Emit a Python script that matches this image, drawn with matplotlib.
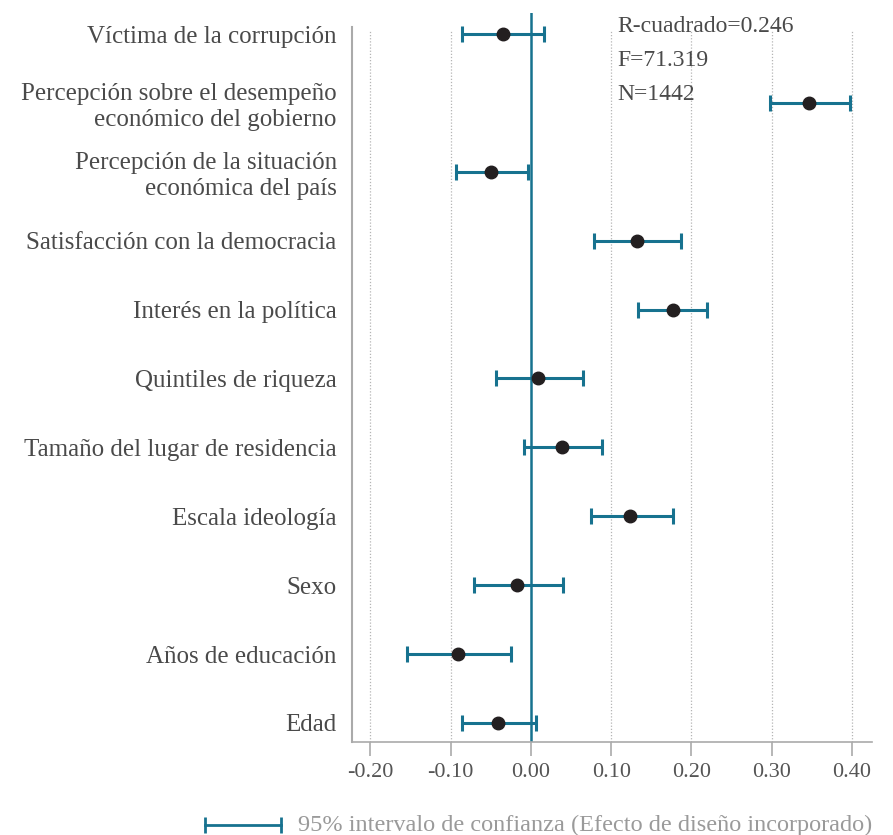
import matplotlib
matplotlib.use("Agg")
import matplotlib.pyplot as plt
from matplotlib.lines import Line2D

categories = [
    "Víctima de la corrupción",
    "Percepción sobre el desempeño\neconómico del gobierno",
    "Percepción de la situación\neconómica del país",
    "Satisfacción con la democracia",
    "Interés en la política",
    "Quintiles de riqueza",
    "Tamaño del lugar de residencia",
    "Escala ideología",
    "Sexo",
    "Años de educación",
    "Edad",
]
coef = [-0.035, 0.347, -0.050, 0.132, 0.177, 0.009, 0.039, 0.123, -0.017, -0.091, -0.041]
ci_low = [-0.086, 0.298, -0.093, 0.078, 0.133, -0.044, -0.009, 0.075, -0.071, -0.154, -0.086]
ci_high = [0.016, 0.397, -0.004, 0.187, 0.220, 0.065, 0.088, 0.177, 0.040, -0.025, 0.006]
xticks = [-0.20, -0.10, 0.00, 0.10, 0.20, 0.30, 0.40]
xticklabels = ["-0.20", "-0.10", "0.00", "0.10", "0.20", "0.30", "0.40"]
stats = ["R-cuadrado=0.246", "F=71.319", "N=1442"]
legend_text = "95% intervalo de confianza (Efecto de diseño incorporado)"

TEAL = "#17728f"
plt.rcParams['font.family'] = ['Liberation Serif', 'DejaVu Serif']

W, H = 893, 835
fig = plt.figure(figsize=(W / 100, H / 100), dpi=100)
ax_left, ax_right, ax_top, ax_bot = 352, 872, 13, 742
ax = fig.add_axes([ax_left / W, 1 - ax_bot / H, (ax_right - ax_left) / W, (ax_bot - ax_top) / H])

n = len(categories)
ypos = list(range(n))
ax.set_xlim(-0.223, 0.425)
ax.set_ylim(10.276, -0.305)

# gridlines
for xt in xticks:
    if xt != 0:
        ax.plot([xt, xt], [10.276, -0.06], color="#b5b5b5", lw=0.9, ls=(0, (1, 1.5)), zorder=1)
ax.axvline(0, color=TEAL, lw=1.8, zorder=2)

xerr = [[c - l for c, l in zip(coef, ci_low)], [h - c for c, h in zip(coef, ci_high)]]
ax.errorbar(coef, ypos, xerr=xerr, fmt='none', ecolor=TEAL, elinewidth=2.2,
            capsize=5.5, capthick=2.2, zorder=3)
ax.plot(coef, ypos, 'o', color="#231f20", markersize=9, zorder=4, ls='none')

ax.set_yticks(ypos)
ax.set_yticklabels(categories, fontsize=18, color="#4a4a4a", linespacing=1.2)
ax.tick_params(axis='y', length=0, pad=11)
ax.set_xticks(xticks)
ax.set_xticklabels(xticklabels, fontsize=16, color="#555555")
ax.tick_params(axis='x', length=10, width=1.2, color="#aaaaaa", pad=5)

for s in ["top", "right"]:
    ax.spines[s].set_visible(False)
ax.spines["left"].set_color("#aaaaaa")
ax.spines["left"].set_linewidth(1.5)
ax.spines["left"].set_bounds(10.276, -0.10)
ax.spines["bottom"].set_color("#aaaaaa")
ax.spines["bottom"].set_linewidth(1.2)

for i, s in enumerate(stats):
    fig.text(617 / W, 1 - (26 + 34 * i) / H, s, fontsize=17, color="#4a4a4a",
             ha="left", va="center")

# legend
ly = 1 - 825 / H
fig.add_artist(Line2D([205 / W, 281 / W], [ly, ly], color=TEAL, lw=2.0,
                      transform=fig.transFigure))
fig.add_artist(Line2D([205 / W, 281 / W], [ly, ly], color=TEAL, lw=0, marker='|',
                      markersize=12, markeredgewidth=2.0, transform=fig.transFigure))
fig.text(298 / W, ly, legend_text, fontsize=17.5, color="#9a9a9a", ha="left", va="center")

fig.savefig("out.png", dpi=100)
